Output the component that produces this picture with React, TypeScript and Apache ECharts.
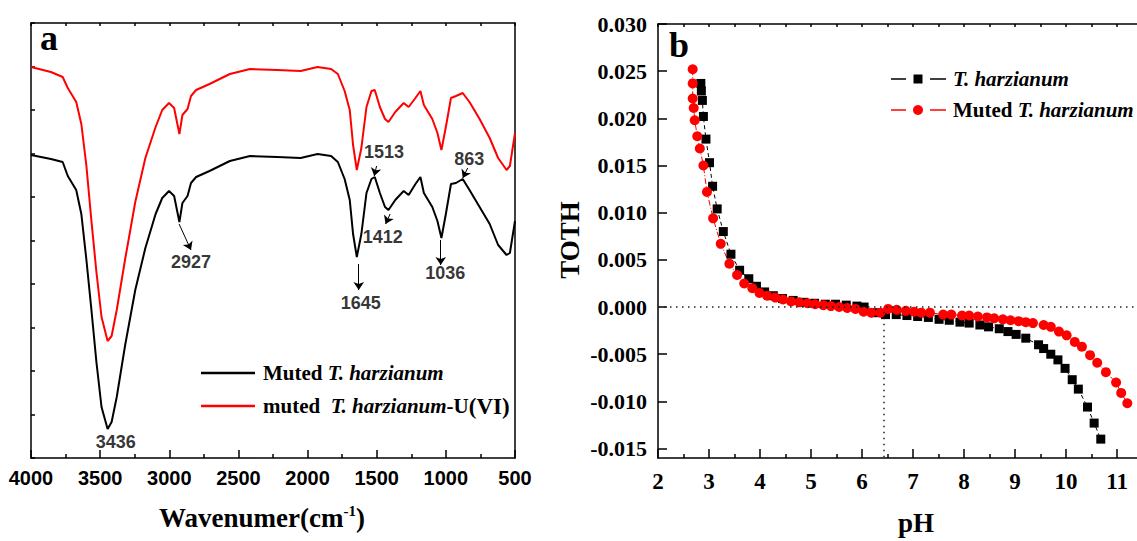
import React, { useEffect, useRef } from 'react';
import * as echarts from 'echarts';

// ---------- Panel a: FTIR spectra ----------
const wavenumber = [4000, 3856, 3771, 3734, 3673, 3636, 3600, 3563, 3527, 3490, 3446, 3417, 3380, 3319, 3246, 3173, 3099, 3051, 3002, 2965, 2927, 2905, 2868, 2843, 2806, 2709, 2562, 2416, 2220, 2050, 1928, 1830, 1781, 1732, 1695, 1671, 1644, 1611, 1574, 1538, 1514, 1477, 1440, 1415, 1366, 1305, 1269, 1220, 1184, 1159, 1098, 1061, 1032, 1000, 963, 927, 878, 829, 756, 683, 622, 561, 537, 500];
const mutedTransmittance = [303, 299, 296, 282, 268, 244, 199, 148, 96, 51, 29, 36, 61, 113, 168, 210, 244, 260, 267, 262, 236, 255, 262, 275, 281, 287, 297, 302, 301, 300, 304, 302, 296, 279, 258, 224, 201, 224, 265, 279, 281, 265, 251, 248, 258, 267, 263, 274, 281, 265, 251, 237, 220, 244, 274, 275, 279, 268, 251, 234, 213, 203, 205, 237];
const mutedUTransmittance = [391, 386, 381, 370, 356, 334, 293, 237, 186, 141, 117, 122, 148, 199, 256, 300, 331, 348, 355, 350, 324, 343, 349, 362, 368, 374, 384, 389, 388, 387, 391, 389, 384, 367, 348, 313, 288, 310, 351, 367, 368, 351, 339, 336, 346, 355, 351, 360, 367, 353, 339, 325, 308, 331, 360, 362, 365, 356, 339, 320, 300, 288, 292, 325];

const peakLabels = ['3436', '2927', '1645', '1513', '1412', '1036', '863'];
const peakLabelX = [3387, 2843, 1615, 1447, 1457, 1005, 830];
const peakLabelY = [16, 196, 155, 306, 221, 185, 299];
const arrowX1 = [2929, 1630, 1501, 1403, 1037, 842];
const arrowY1 = [234, 194, 292, 244, 218, 290];
const arrowX2 = [2843, 1630, 1518, 1436, 1037, 878];
const arrowY2 = [208, 168, 282, 234, 193, 280];

// ---------- Panel b: TOTH vs pH ----------
const phBlack = [2.84, 2.85, 2.87, 2.89, 2.94, 3.01, 3.07, 3.16, 3.28, 3.43, 3.60, 3.78, 3.93, 4.09, 4.26, 4.44, 4.65, 4.86, 5.07, 5.28, 5.48, 5.69, 5.90, 6.04, 6.25, 6.46, 6.67, 6.88, 7.09, 7.30, 7.51, 7.71, 7.92, 8.10, 8.31, 8.48, 8.69, 8.86, 9.02, 9.21, 9.46, 9.56, 9.70, 9.84, 9.98, 10.12, 10.24, 10.42, 10.55, 10.68];
const tothBlack = [0.0237, 0.0229, 0.0219, 0.0202, 0.0178, 0.0153, 0.0128, 0.0104, 0.0080, 0.0056, 0.0039, 0.0030, 0.0022, 0.0016, 0.0012, 0.0009, 0.0007, 0.0005, 0.0004, 0.0003, 0.0003, 0.0002, 0.0001, 0.0000, -0.0006, -0.0008, -0.0008, -0.0009, -0.0010, -0.0011, -0.0013, -0.0014, -0.0016, -0.0017, -0.0019, -0.0021, -0.0023, -0.0026, -0.0029, -0.0033, -0.0040, -0.0044, -0.0050, -0.0056, -0.0065, -0.0077, -0.0087, -0.0106, -0.0123, -0.0140];
const phRed = [2.68, 2.68, 2.68, 2.70, 2.72, 2.77, 2.82, 2.89, 2.96, 3.08, 3.23, 3.40, 3.55, 3.69, 3.85, 3.99, 4.14, 4.30, 4.45, 4.61, 4.77, 4.93, 5.08, 5.24, 5.39, 5.55, 5.71, 5.87, 6.03, 6.18, 6.36, 6.51, 6.68, 6.86, 7.02, 7.16, 7.33, 7.59, 7.75, 7.96, 8.10, 8.27, 8.45, 8.59, 8.76, 8.91, 9.07, 9.21, 9.35, 9.56, 9.70, 9.86, 10.01, 10.17, 10.31, 10.47, 10.61, 10.78, 10.98, 11.08, 11.20];
const tothRed = [0.0252, 0.0237, 0.0221, 0.0211, 0.0198, 0.0181, 0.0168, 0.0150, 0.0122, 0.0094, 0.0067, 0.0046, 0.0034, 0.0025, 0.0020, 0.0015, 0.0012, 0.0010, 0.0008, 0.0006, 0.0005, 0.0004, 0.0003, 0.0002, 0.0001, 0.0000, -0.0001, -0.0002, -0.0005, -0.0006, -0.0006, -0.0002, -0.0003, -0.0004, -0.0005, -0.0006, -0.0006, -0.0008, -0.0008, -0.0009, -0.0009, -0.0010, -0.0011, -0.0012, -0.0013, -0.0014, -0.0015, -0.0016, -0.0017, -0.0019, -0.0021, -0.0026, -0.0030, -0.0037, -0.0042, -0.0051, -0.0059, -0.0069, -0.0080, -0.0091, -0.0102];

const phTicks = [2, 3, 4, 5, 6, 7, 8, 9, 10, 11];
const phMinorTicks = [2.5, 3.5, 4.5, 5.5, 6.5, 7.5, 8.5, 9.5, 10.5];
const phTopTicks = [2, 2.5, 3, 3.5, 4, 4.5, 5, 5.5, 6, 6.5, 7, 7.5, 8, 8.5, 9, 9.5, 10, 10.5, 11];
const tothTicks = [-0.015, -0.01, -0.005, 0, 0.005, 0.01, 0.015, 0.02, 0.025, 0.03];
const zeroLevel = -0.0005;
const pzcPH = 6.43;

const SERIF = 'Liberation Serif';
const SANS = 'Liberation Sans';

const axisLineStyle = { onZero: false, lineStyle: { color: '#000', width: 1.5 } };

function buildOption(): any {
  const arrows = arrowX1.map((x, i) => [
    { coord: [x, arrowY1[i]] },
    { coord: [arrowX2[i], arrowY2[i]] },
  ]);
  const labelData = peakLabels.map((t, i) => ({ value: [peakLabelX[i], peakLabelY[i]], name: t }));

  const serifBold = (size: number, italic = false) => ({
    fontFamily: SERIF,
    fontWeight: 'bold',
    fontSize: size,
    fontStyle: italic ? 'italic' : 'normal',
    fill: '#000',
  });

  return {
    animation: false,
    backgroundColor: '#fff',
    grid: [
      { left: 31, top: 23, width: 484, height: 435 },
      { left: 658, top: 24, width: 479, height: 434 },
    ],
    xAxis: [
      {
        gridIndex: 0, type: 'value', min: 500, max: 4000, interval: 500, inverse: true, position: 'bottom',
        axisLine: axisLineStyle,
        axisTick: { inside: true, length: 8, lineStyle: { color: '#000', width: 1.5 } },
        minorTick: { show: true, splitNumber: 2, length: 4, lineStyle: { color: '#000', width: 1.5 } },
        splitLine: { show: false }, minorSplitLine: { show: false },
        axisLabel: { formatter: (v: number) => String(v), fontFamily: SANS, fontWeight: 'bold', fontSize: 20, color: '#000', margin: 10 },
      },
      {
        gridIndex: 0, type: 'value', min: 500, max: 4000, interval: 250, inverse: true, position: 'top',
        axisLine: axisLineStyle,
        axisTick: { inside: true, length: 3, lineStyle: { color: '#000', width: 1.5 } },
        splitLine: { show: false }, axisLabel: { show: false },
      },
      {
        gridIndex: 1, type: 'value', min: 2, max: 11.39, position: 'bottom',
        axisLine: axisLineStyle,
        axisTick: { inside: true, length: 9, customValues: phTicks, lineStyle: { color: '#000', width: 1.5 } },
        splitLine: { show: false },
        axisLabel: { customValues: phTicks, fontFamily: SERIF, fontWeight: 'bold', fontSize: 23, color: '#000', margin: 12 },
      },
      {
        gridIndex: 1, type: 'value', min: 2, max: 11.39, position: 'bottom',
        axisLine: { show: false, onZero: false },
        axisTick: { inside: true, length: 4, customValues: phMinorTicks, lineStyle: { color: '#000', width: 1.5 } },
        splitLine: { show: false }, axisLabel: { show: false },
      },
      {
        gridIndex: 1, type: 'value', min: 2, max: 11.39, position: 'top',
        axisLine: axisLineStyle,
        axisTick: { inside: true, length: 3, customValues: phTopTicks, lineStyle: { color: '#000', width: 1.5 } },
        splitLine: { show: false }, axisLabel: { show: false },
      },
    ],
    yAxis: [
      {
        gridIndex: 0, type: 'value', min: 0, max: 435, interval: 43.5, position: 'left',
        axisLine: axisLineStyle,
        axisTick: { inside: true, length: 4, lineStyle: { color: '#000', width: 1.5 } },
        splitLine: { show: false }, axisLabel: { show: false },
      },
      {
        gridIndex: 0, type: 'value', min: 0, max: 435, position: 'right',
        axisLine: axisLineStyle,
        axisTick: { show: false },
        splitLine: { show: false }, axisLabel: { show: false },
      },
      {
        gridIndex: 1, type: 'value', min: -0.016, max: 0.03, position: 'left',
        axisLine: axisLineStyle,
        axisTick: { inside: true, length: 9, customValues: tothTicks, lineStyle: { color: '#000', width: 1.5 } },
        splitLine: { show: false },
        axisLabel: {
          customValues: tothTicks,
          formatter: (v: number) => v.toFixed(3),
          fontFamily: SERIF, fontWeight: 'bold', fontSize: 22, color: '#000', margin: 11,
        },
      },
    ],
    series: [
      {
        type: 'line', xAxisIndex: 0, yAxisIndex: 0, showSymbol: false, symbol: 'none',
        data: wavenumber.map((w, i) => [w, mutedTransmittance[i]]),
        lineStyle: { color: '#000', width: 2 }, itemStyle: { color: '#000' },
        markLine: {
          silent: true, symbol: ['none', 'arrow'], symbolSize: 8,
          lineStyle: { color: '#000', width: 1, type: 'solid' },
          label: { show: false },
          data: arrows,
        },
      },
      {
        type: 'line', xAxisIndex: 0, yAxisIndex: 0, showSymbol: false, symbol: 'none',
        data: wavenumber.map((w, i) => [w, mutedUTransmittance[i]]),
        lineStyle: { color: '#ff0000', width: 2 }, itemStyle: { color: '#ff0000' },
      },
      {
        type: 'scatter', xAxisIndex: 0, yAxisIndex: 0, symbolSize: 1,
        itemStyle: { color: 'rgba(0,0,0,0)' },
        data: labelData,
        label: {
          show: true, position: 'inside', formatter: (p: any) => p.name,
          fontFamily: SANS, fontWeight: 'bold', fontSize: 18, color: '#000',
        },
      },
      {
        type: 'line', xAxisIndex: 2, yAxisIndex: 2, symbol: 'rect', symbolSize: 9, showSymbol: true,
        data: phBlack.map((p, i) => [p, tothBlack[i]]),
        lineStyle: { color: '#000', width: 1, type: [4, 3] }, itemStyle: { color: '#000' },
        markLine: {
          silent: true, symbol: ['none', 'none'],
          lineStyle: { color: '#222', width: 1.5, type: [1.5, 4.5] },
          label: { show: false },
          data: [
            { yAxis: zeroLevel },
            [{ coord: [pzcPH, zeroLevel] }, { coord: [pzcPH, -0.016] }],
          ],
        },
      },
      {
        type: 'line', xAxisIndex: 2, yAxisIndex: 2, symbol: 'circle', symbolSize: 10, showSymbol: true,
        data: phRed.map((p, i) => [p, tothRed[i]]),
        lineStyle: { color: '#ff0000', width: 1, type: [6, 2, 1, 2] }, itemStyle: { color: '#ff0000' },
      },
    ],
    graphic: [
      // panel labels
      { type: 'text', x: 40, y: 38, style: { text: 'a', ...serifBold(36), verticalAlign: 'middle' } },
      { type: 'text', x: 669, y: 45, style: { text: 'b', ...serifBold(36), verticalAlign: 'middle' } },
      // left legend
      { type: 'line', shape: { x1: 201, y1: 373, x2: 255, y2: 373 }, style: { stroke: '#000', lineWidth: 2.5 } },
      { type: 'line', shape: { x1: 201, y1: 406, x2: 255, y2: 406 }, style: { stroke: '#ff0000', lineWidth: 2.5 } },
      {
        type: 'text', x: 263, y: 373,
        style: {
          text: '{n|Muted }{i|T. harzianum}', verticalAlign: 'middle', fill: '#000',
          rich: { n: serifBold(21), i: serifBold(21, true) },
        },
      },
      {
        type: 'text', x: 263, y: 406,
        style: {
          text: '{n|muted  }{i|T. harzianum}{n|-U}{b|(VI)}', verticalAlign: 'middle', fill: '#000',
          rich: { n: serifBold(21), i: serifBold(21, true), b: serifBold(23) },
        },
      },
      // right legend
      { type: 'line', shape: { x1: 891, y1: 79, x2: 906, y2: 79 }, style: { stroke: '#000', lineWidth: 1.5 } },
      { type: 'line', shape: { x1: 930, y1: 79, x2: 946, y2: 79 }, style: { stroke: '#000', lineWidth: 1.5 } },
      { type: 'rect', shape: { x: 913.5, y: 74.5, width: 9, height: 9 }, style: { fill: '#000' } },
      { type: 'line', shape: { x1: 891, y1: 110, x2: 906, y2: 110 }, style: { stroke: '#ff0000', lineWidth: 1.5 } },
      { type: 'line', shape: { x1: 930, y1: 110, x2: 946, y2: 110 }, style: { stroke: '#ff0000', lineWidth: 1.5 } },
      { type: 'circle', shape: { cx: 918, cy: 110, r: 5 }, style: { fill: '#ff0000' } },
      {
        type: 'text', x: 953, y: 79,
        style: { text: '{i|T. harzianum}', verticalAlign: 'middle', fill: '#000', rich: { i: serifBold(21, true) } },
      },
      {
        type: 'text', x: 953, y: 110,
        style: {
          text: '{n|Muted }{i|T. harzianum}', verticalAlign: 'middle', fill: '#000',
          rich: { n: serifBold(21), i: serifBold(21, true) },
        },
      },
      // axis titles
      {
        type: 'text', x: 262, y: 518,
        style: {
          text: '{t|Wavenumer(cm}{s|-1}{t|)}', align: 'center', verticalAlign: 'middle', fill: '#000',
          rich: {
            t: { ...serifBold(27), lineHeight: 30 },
            s: { ...serifBold(15), verticalAlign: 'top', lineHeight: 30 },
          },
        },
      },
      { type: 'text', x: 916, y: 523, style: { text: 'pH', ...serifBold(27), align: 'center', verticalAlign: 'middle' } },
      {
        type: 'text', x: 570, y: 240, rotation: Math.PI / 2,
        style: { text: 'TOTH', ...serifBold(27), align: 'center', verticalAlign: 'middle' },
      },
    ],
  };
}

export default function App() {
  const ref = useRef<HTMLDivElement>(null);
  useEffect(() => {
    if (!ref.current) return;
    const chart = echarts.init(ref.current, null, { renderer: 'svg' });
    chart.setOption(buildOption());
    return () => chart.dispose();
  }, []);
  return (
    <div
      ref={ref}
      style={{ position: 'absolute', left: 0, top: 0, width: 1137, height: 541, background: '#fff' }}
    />
  );
}
